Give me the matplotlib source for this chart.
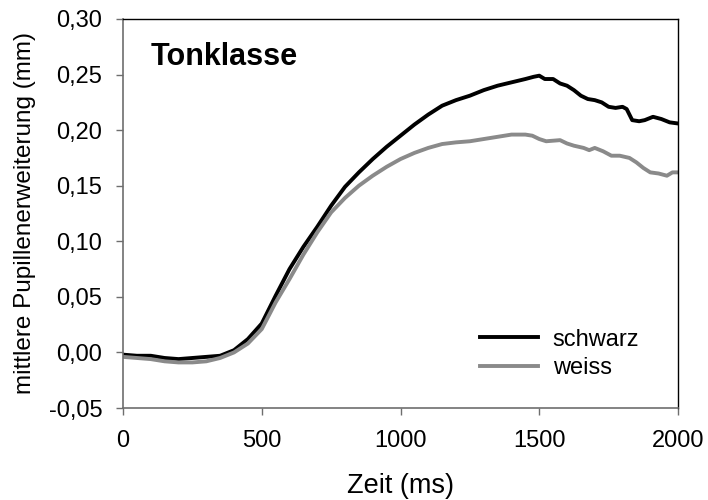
import matplotlib
matplotlib.use("Agg")
import matplotlib.pyplot as plt

plt.rcParams['font.family'] = ['Liberation Sans', 'DejaVu Sans']

# Mean pupil dilation over time, per condition
t_schwarz = [0, 50, 100, 150, 200, 250, 300, 350, 400, 450, 500, 550, 600, 650,
             700, 750, 800, 850, 900, 950, 1000, 1050, 1100, 1150, 1200, 1250,
             1300, 1350, 1400, 1450, 1480, 1500, 1520, 1550, 1575, 1600, 1625,
             1650, 1675, 1700, 1725, 1750, 1775, 1800, 1815, 1835, 1860, 1880,
             1910, 1940, 1970, 2000]
schwarz = [-0.002, -0.003, -0.003, -0.005, -0.006, -0.005, -0.004, -0.003,
           0.002, 0.012, 0.026, 0.051, 0.075, 0.095, 0.113, 0.132, 0.149,
           0.162, 0.174, 0.185, 0.195, 0.205, 0.214, 0.222, 0.227, 0.231,
           0.236, 0.240, 0.243, 0.246, 0.248, 0.249, 0.246, 0.246, 0.242,
           0.240, 0.236, 0.231, 0.228, 0.227, 0.225, 0.221, 0.220, 0.221,
           0.219, 0.209, 0.208, 0.209, 0.212, 0.210, 0.207, 0.206]

t_weiss = [0, 50, 100, 150, 200, 250, 300, 350, 400, 450, 500, 550, 600, 650,
           700, 750, 800, 850, 900, 950, 1000, 1050, 1100, 1150, 1200, 1250,
           1300, 1350, 1400, 1450, 1475, 1500, 1525, 1575, 1600, 1625, 1660,
           1680, 1700, 1730, 1760, 1790, 1825, 1850, 1875, 1900, 1930, 1960,
           1980, 2000]
weiss = [-0.004, -0.005, -0.006, -0.008, -0.009, -0.009, -0.008, -0.005,
         0.000, 0.008, 0.021, 0.045, 0.066, 0.088, 0.108, 0.126, 0.139,
         0.150, 0.159, 0.167, 0.174, 0.1795, 0.184, 0.1875, 0.189, 0.190,
         0.192, 0.194, 0.196, 0.196, 0.195, 0.192, 0.190, 0.191, 0.188,
         0.186, 0.184, 0.182, 0.184, 0.181, 0.177, 0.177, 0.175, 0.171,
         0.166, 0.162, 0.161, 0.159, 0.162, 0.162]

y_ticks = [-0.05, 0.00, 0.05, 0.10, 0.15, 0.20, 0.25, 0.30]
x_ticks = [0, 500, 1000, 1500, 2000]

fig = plt.figure(figsize=(7.08, 5.0), dpi=100)
ax = fig.add_axes([123 / 708, 1 - 408 / 500, 555 / 708, 389 / 500])

ax.plot(t_schwarz, schwarz, color='black', lw=2.8, label='schwarz',
        solid_joinstyle='round')
ax.plot(t_weiss, weiss, color='#8a8a8a', lw=2.8, label='weiss',
        solid_joinstyle='round')

ax.set_xlim(0, 2000)
ax.set_ylim(-0.05, 0.30)
ax.set_xticks(x_ticks)
ax.set_yticks(y_ticks)
ax.set_yticklabels([f"{v:.2f}".replace('.', ',') for v in y_ticks])
ax.set_xticklabels([str(v) for v in x_ticks])

for side in ('left', 'bottom'):
    ax.spines[side].set_color('#6e6e6e')
    ax.spines[side].set_linewidth(1.2)
for side in ('top', 'right'):
    ax.spines[side].set_color('black')
    ax.spines[side].set_linewidth(1.0)

ax.tick_params(axis='both', direction='out', length=5, width=1.0,
               color='#6e6e6e', labelsize=17)
ax.tick_params(axis='x', pad=11)
ax.tick_params(axis='y', pad=10)

ax.set_xlabel('Zeit (ms)', fontsize=19.5, labelpad=15)
ax.set_ylabel('mittlere Pupillenerweiterung (mm)', fontsize=17.5, labelpad=9)

ax.text(0.05, 0.882, 'Tonklasse', transform=ax.transAxes, fontsize=22,
        fontweight='bold', va='baseline', ha='left')

ax.legend(loc='upper left', bbox_to_anchor=(0.643, 0.204), frameon=False,
          fontsize=17, handlelength=2.45, handletextpad=0.64,
          labelspacing=0.28, borderpad=0, borderaxespad=0)

fig.savefig('out.png', dpi=100)
